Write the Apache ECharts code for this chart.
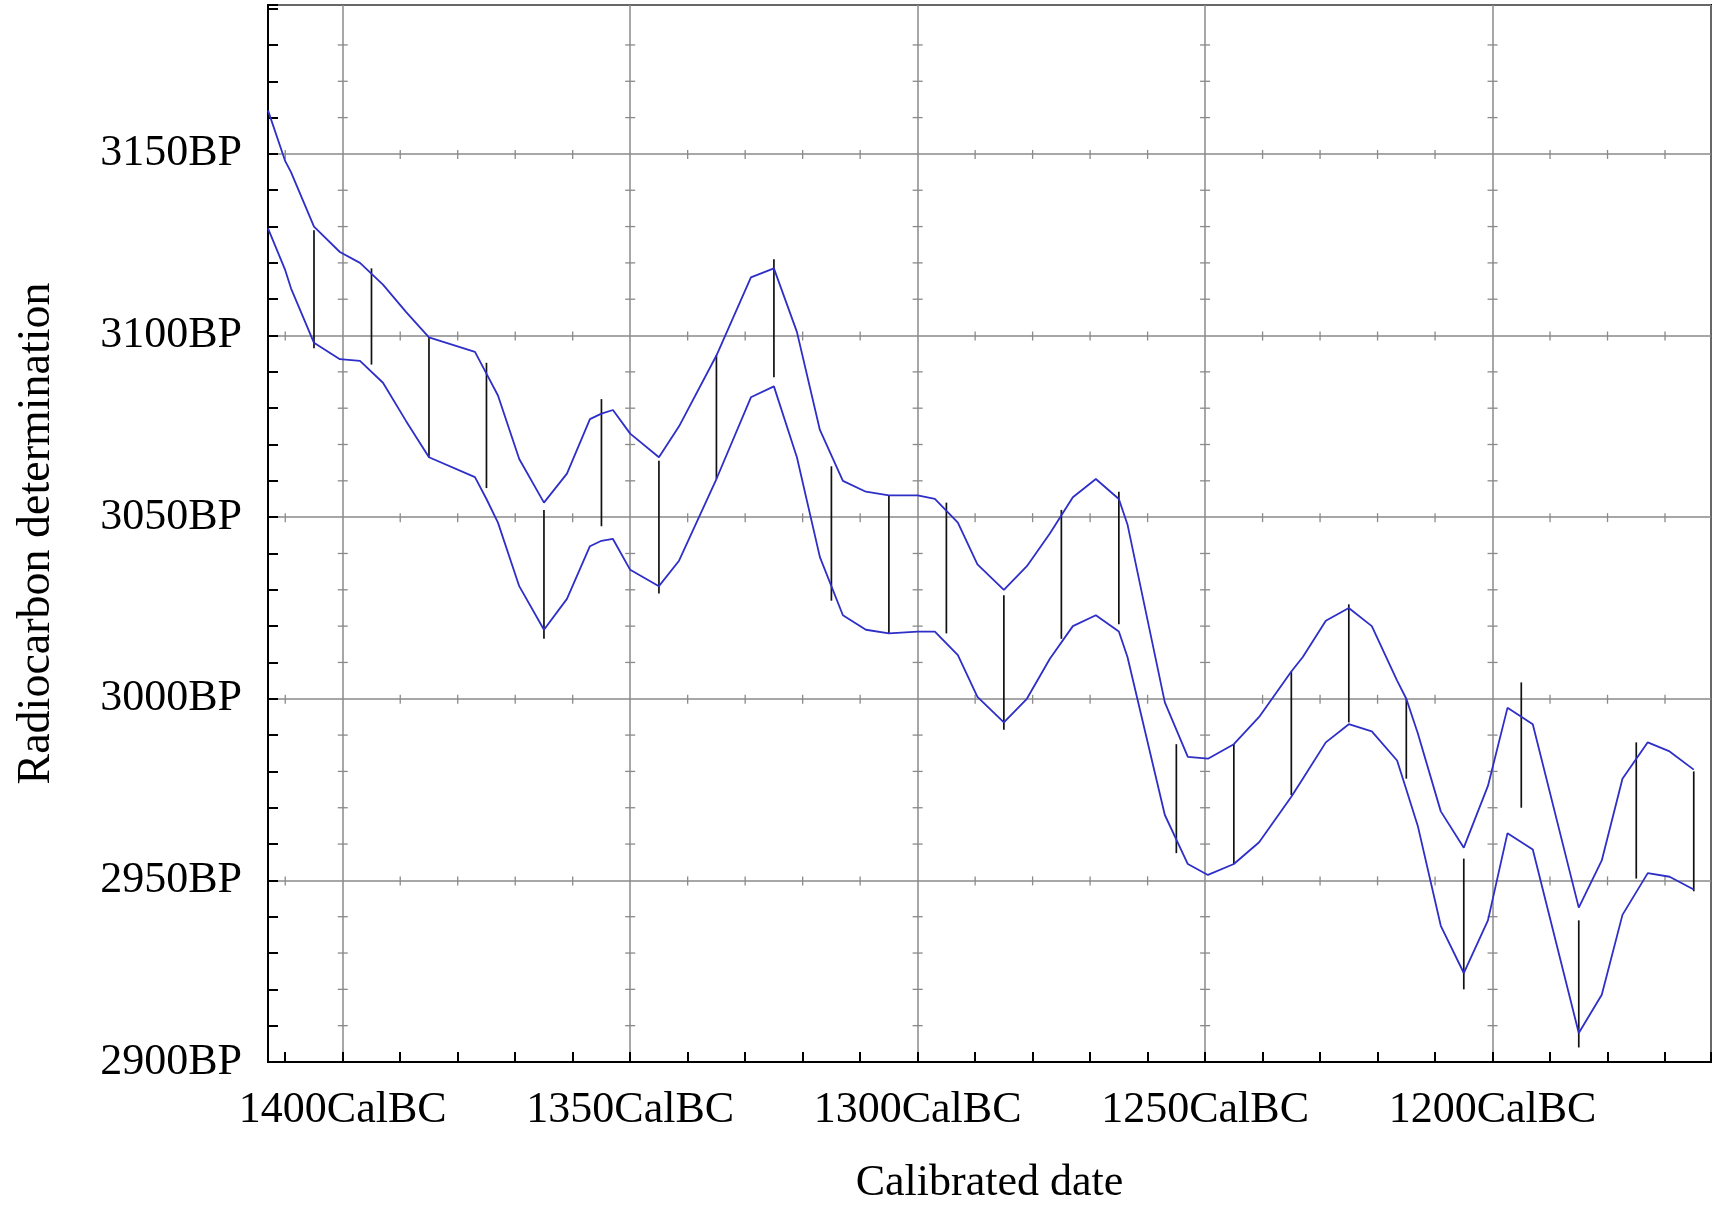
<!DOCTYPE html>
<html>
<head>
  <meta charset="UTF-8">
  <script src="https://cdn.jsdelivr.net/npm/echarts@6.0.0/dist/echarts.min.js"></script>
  <style>
    html, body { margin: 0; padding: 0; background: #fff; }
    #chart { width: 1713px; height: 1211px; }
  </style>
</head>
<body>
<div id="chart"></div>
<script>
  // calibration curve envelope: calendar years (cal BC) with upper / lower radiocarbon ages (BP)
  var curveYears = [1413, 1410, 1409, 1405, 1400.5, 1397, 1393, 1389, 1385, 1377, 1375, 1373, 1369.3, 1365, 1361, 1357,
    1355, 1353, 1350, 1345, 1341.5, 1335, 1329, 1325, 1321, 1317, 1313, 1309, 1305, 1300, 1297, 1293, 1289.6, 1285,
    1281, 1277, 1273, 1269, 1265, 1263.5, 1257, 1253, 1249.5, 1245, 1240.6, 1235, 1233, 1229, 1225, 1221, 1216.6,
    1215, 1213, 1209, 1205, 1200.8, 1197.4, 1193, 1185, 1181, 1177.4, 1173, 1169.2, 1165];
  var curveUpper = [3162, 3148, 3145, 3130, 3123, 3120, 3114, 3106.5, 3099.5, 3095.5, 3089.5, 3083.5, 3066, 3054, 3062, 3077,
    3078.5, 3079.5, 3073, 3066.5, 3075, 3094.5, 3116, 3118.5, 3101, 3074, 3060, 3057, 3056, 3056, 3055, 3048.5, 3037, 3030,
    3036.5, 3045.5, 3055.5, 3060.5, 3055, 3048, 2999, 2984, 2983.5, 2987.5, 2995, 3007.5, 3011.5, 3021.5, 3025, 3020, 3005,
    3000, 2990.5, 2969, 2959, 2976, 2997.5, 2993, 2942.5, 2955.5, 2978, 2988, 2985.5, 2980.5];
  var curveLower = [3129.5, 3118, 3113, 3098, 3093.5, 3093, 3087, 3076.5, 3066.5, 3061, 3055, 3048.5, 3031, 3019, 3027.5, 3042,
    3043.5, 3044, 3035.5, 3031, 3038, 3060.5, 3083, 3086, 3066.5, 3039, 3023, 3019, 3018, 3018.5, 3018.5, 3012, 3000.5, 2993.5,
    3000, 3011, 3020, 3023, 3018.5, 3011.5, 2968, 2954.5, 2951.5, 2954.5, 2960.5, 2973, 2978, 2988, 2993, 2991, 2983,
    2975, 2965, 2937.5, 2924.5, 2939, 2963, 2958.5, 2908, 2918.5, 2940.5, 2952, 2951, 2947.5];

  // vertical bars every 10 years
  var barYears = [1405, 1395, 1385, 1375, 1365, 1355, 1345, 1335, 1325, 1315, 1305, 1295, 1285, 1275, 1265, 1255, 1245,
    1235, 1225, 1215, 1205, 1195, 1185, 1175, 1165];
  var barTop = [3129, 3118.5, 3099.5, 3092.5, 3052, 3082.5, 3065.5, 3094.5, 3121, 3064, 3056, 3054, 3028.5, 3052, 3057,
    2987.5, 2987.5, 3007.5, 3026, 3000, 2956, 3004.5, 2939, 2988, 2980];
  var barBottom = [3096.5, 3092, 3066.5, 3058, 3016.5, 3047.5, 3029, 3060.5, 3088.5, 3027, 3018, 3018, 2991.5, 3016.5, 3020.5,
    2957.5, 2954.5, 2973.5, 2993.5, 2978, 2920, 2970, 2904, 2950.5, 2947];

  // axis ticks
  var xLabels = [1400, 1350, 1300, 1250, 1200];
  var yLabels = [2900, 2950, 3000, 3050, 3100, 3150];
  var xRange = [1162, 1413];
  var yRange = [2900, 3191];

  var FONT = 'Liberation Serif';
  var GRID_GRAY = '#8a8a8a';
  var CURVE_BLUE = '#2e2ec8';

  // small cross ticks along the major grid lines
  var crosses = [];
  yLabels.slice(1).forEach(function (y) {
    for (var x = 1170; x <= 1410; x += 10) {
      if (x % 50 !== 0) crosses.push([x, y, 1]);
    }
  });
  xLabels.forEach(function (x) {
    for (var y = 2910; y <= 3180; y += 10) {
      if (y % 50 !== 0) crosses.push([x, y, 0]);
    }
  });

  var chart = echarts.init(document.getElementById('chart'));
  chart.setOption({
    animation: false,
    backgroundColor: '#fff',
    grid: {
      left: 268, right: 2, top: 5, bottom: 149,
      show: true, borderColor: '#000', borderWidth: 2,
      containLabel: false, outerBoundsMode: 'none'
    },
    xAxis: [{
      type: 'value', position: 'bottom', inverse: true,
      min: xRange[0], max: xRange[1], splitNumber: 5,
      name: 'Calibrated date', nameLocation: 'middle', nameGap: 99,
      nameTextStyle: { fontFamily: FONT, fontSize: 44, color: '#000' },
      axisLine: { show: true, lineStyle: { color: '#000', width: 2 } },
      axisTick: { show: false },
      axisLabel: {
        margin: 26, fontFamily: FONT, fontSize: 44, color: '#000',
        formatter: function (v) { return xLabels.indexOf(v) >= 0 ? v + 'CalBC' : ''; }
      },
      splitLine: { show: true, lineStyle: { color: GRID_GRAY, width: 1.5 } }
    }, {
      type: 'value', position: 'bottom', inverse: true,
      min: xRange[0], max: xRange[1], splitNumber: 25,
      axisLine: { show: false },
      axisTick: { show: true, inside: true, length: 10, lineStyle: { color: '#000', width: 2 } },
      axisLabel: { show: false },
      splitLine: { show: false }
    }],
    yAxis: [{
      type: 'value', position: 'left',
      min: yRange[0], max: yRange[1], interval: 50,
      name: 'Radiocarbon determination', nameLocation: 'middle', nameRotate: 90, nameGap: 208,
      nameTextStyle: { fontFamily: FONT, fontSize: 46, color: '#000' },
      axisLine: { show: true, lineStyle: { color: '#000', width: 2 } },
      axisTick: { show: false },
      axisLabel: {
        margin: 26, fontFamily: FONT, fontSize: 44, color: '#000',
        formatter: function (v) { return yLabels.indexOf(v) >= 0 ? v + 'BP' : ''; }
      },
      splitLine: { show: true, lineStyle: { color: GRID_GRAY, width: 1.5 } }
    }, {
      type: 'value', position: 'left',
      min: yRange[0], max: yRange[1], interval: 10,
      axisLine: { show: false },
      axisTick: { show: true, inside: true, length: 10, lineStyle: { color: '#000', width: 2 } },
      axisLabel: { show: false },
      splitLine: { show: false }
    }],
    series: [{
      type: 'custom',
      xAxisIndex: 0, yAxisIndex: 0,
      silent: true,
      data: crosses,
      renderItem: function (params, api) {
        var p = api.coord([api.value(0), api.value(1)]);
        var shape = api.value(2) === 1
          ? { x1: p[0], y1: p[1] - 4, x2: p[0], y2: p[1] + 5 }
          : { x1: p[0] - 5, y1: p[1], x2: p[0] + 5, y2: p[1] };
        return { type: 'line', shape: shape, style: { stroke: GRID_GRAY, lineWidth: 1.3 } };
      }
    }, {
      type: 'line',
      xAxisIndex: 0, yAxisIndex: 0,
      data: curveYears.map(function (x, i) { return [x, curveUpper[i]]; }),
      showSymbol: false,
      lineStyle: { color: CURVE_BLUE, width: 1.8 }
    }, {
      type: 'line',
      xAxisIndex: 0, yAxisIndex: 0,
      data: curveYears.map(function (x, i) { return [x, curveLower[i]]; }),
      showSymbol: false,
      lineStyle: { color: CURVE_BLUE, width: 1.8 }
    }, {
      type: 'custom',
      xAxisIndex: 0, yAxisIndex: 0,
      data: barYears.map(function (x, i) { return [x, barTop[i], barBottom[i]]; }),
      renderItem: function (params, api) {
        var a = api.coord([api.value(0), api.value(1)]);
        var b = api.coord([api.value(0), api.value(2)]);
        return { type: 'line', shape: { x1: a[0], y1: a[1], x2: b[0], y2: b[1] }, style: { stroke: '#111', lineWidth: 1.7 } };
      }
    }]
  });
</script>
</body>
</html>
